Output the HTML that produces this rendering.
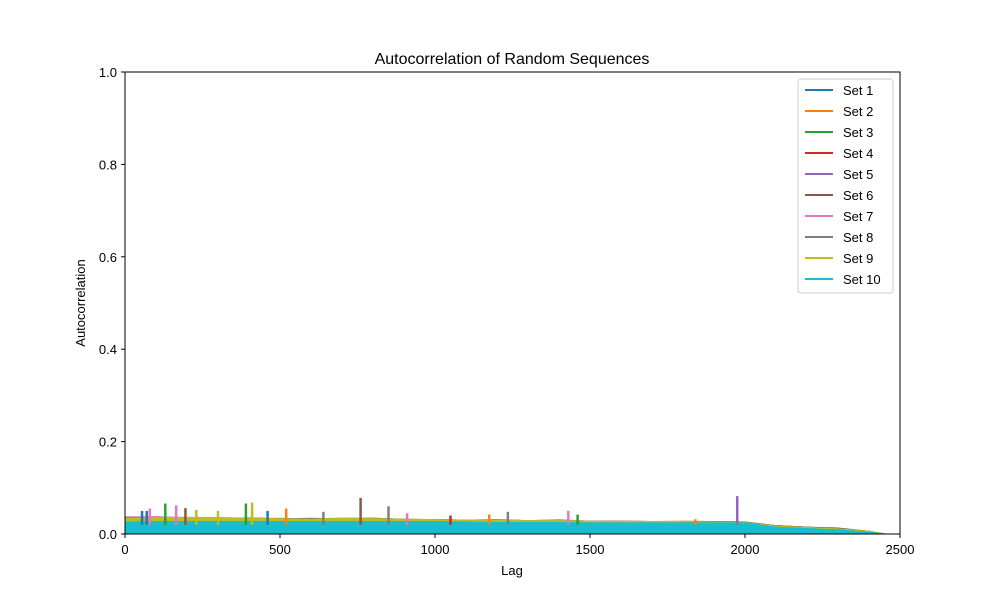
<!DOCTYPE html>
<html><head><meta charset="utf-8"><style>
html,body{margin:0;padding:0;background:#fff;}
svg{display:block;font-family:"Liberation Sans","DejaVu Sans",sans-serif;}
</style></head><body>
<svg id="chart" width="1000" height="600" viewBox="0 0 1000 600">
<rect width="1000" height="600" fill="#fff"/>
<text x="512" y="64" text-anchor="middle" font-size="16">Autocorrelation of Random Sequences</text>
<defs><clipPath id="pc"><rect x="125" y="72" width="775" height="462"/></clipPath></defs>
<g id="series" clip-path="url(#pc)"></g>
<rect x="125" y="72" width="775" height="462" fill="none" stroke="#000" stroke-width="1"/>
<g id="axes"></g>
<text x="512" y="575" text-anchor="middle" font-size="13">Lag</text>
<text transform="translate(85,303) rotate(-90)" text-anchor="middle" font-size="13">Autocorrelation</text>
<g id="legend"></g>
</svg>
<script>
const lags=[0,100,200,300,400,500,600,700,800,900,1000,1100,1200,1300,1400,1500,1600,1700,1800,1900,2000,2100,2200,2300,2400,2450];
const seriesNames=["Set 1","Set 2","Set 3","Set 4","Set 5","Set 6","Set 7","Set 8","Set 9","Set 10"];
const colors=["#1f77b4","#ff7f0e","#2ca02c","#d62728","#9467bd","#8c564b","#e377c2","#7f7f7f","#bcbd22","#17becf"];
const s1=[.036,.034,.033,.032,.033,.032,.031,.031,.031,.031,.030,.030,.030,.029,.029,.028,.028,.027,.027,.027,.026,.018,.015,.011,.006,0];
const s2=[.035,.035,.034,.033,.033,.034,.032,.032,.032,.031,.031,.030,.031,.029,.029,.028,.028,.027,.028,.027,.026,.018,.015,.011,.006,0];
const s3=[.037,.036,.034,.035,.034,.033,.032,.032,.032,.031,.031,.030,.030,.029,.030,.028,.027,.027,.027,.027,.026,.018,.014,.011,.006,0];
const s4=[.034,.034,.033,.032,.032,.032,.031,.032,.031,.031,.030,.029,.029,.029,.028,.028,.027,.027,.026,.026,.025,.017,.014,.010,.005,0];
const s5=[.035,.036,.034,.033,.032,.032,.032,.032,.033,.031,.030,.029,.029,.028,.028,.028,.027,.027,.027,.026,.026,.017,.014,.011,.006,0];
const s6=[.036,.036,.036,.034,.035,.033,.033,.034,.034,.032,.031,.030,.030,.029,.028,.028,.027,.027,.027,.026,.025,.018,.015,.013,.006,0];
const s7=[.037,.038,.035,.033,.034,.032,.032,.033,.032,.032,.030,.030,.030,.029,.031,.028,.027,.027,.026,.026,.025,.018,.014,.011,.006,0];
const s8=[.036,.036,.034,.033,.035,.033,.034,.033,.034,.032,.031,.030,.031,.029,.029,.028,.027,.027,.026,.026,.025,.018,.015,.011,.006,0];
const s9=[.034,.036,.036,.036,.034,.033,.032,.034,.033,.032,.031,.030,.030,.029,.029,.028,.027,.027,.027,.026,.025,.017,.014,.011,.006,0];
const s10=[.026,.027,.027,.027,.027,.027,.027,.027,.027,.027,.027,.026,.025,.025,.025,.024,.024,.024,.024,.024,.024,.015,.012,.009,.004,0];
const allSeries=[s1,s2,s3,s4,s5,s6,s7,s8,s9,s10];
const spikeLags=[760,1975,2380,1430,130,390,410,55,70,165,195,230,460,520,850,1050,1175,1235,1460,1840,80,300,640,910];
const spikeVals=[0.078,0.082,0.02,0.05,0.066,0.066,0.068,0.05,0.05,0.062,0.056,0.052,0.05,0.055,0.06,0.04,0.042,0.048,0.042,0.032,0.055,0.05,0.048,0.045];
const spikeSeries=[5,4,5,6,2,2,8,0,0,6,5,8,0,1,7,3,1,7,2,1,6,8,7,6];
const xTicks=[0,500,1000,1500,2000,2500];
const yTicks=[0,0.2,0.4,0.6,0.8,1.0];
const NS="http://www.w3.org/2000/svg";
const X=v=>125+v/2500*775, Y=v=>534-v*462;
const g=document.getElementById('series');
allSeries.forEach((s,i)=>{
  let d=`M${X(lags[0])},${Y(0)}`;
  s.forEach((v,j)=>{d+=` L${X(lags[j])},${Y(v)}`;});
  d+=` L${X(lags[lags.length-1])},${Y(0)} Z`;
  const p=document.createElementNS(NS,'path');
  p.setAttribute('d',d);p.setAttribute('fill',colors[i]);p.setAttribute('stroke',colors[i]);p.setAttribute('stroke-width','1');
  
  
  g.appendChild(p);
});
spikeLags.forEach((l,k)=>{
  const ln=document.createElementNS(NS,'line');
  ln.setAttribute('x1',X(l));ln.setAttribute('x2',X(l));ln.setAttribute('y1',Y(0.02));ln.setAttribute('y2',Y(spikeVals[k]));
  ln.setAttribute('stroke',colors[spikeSeries[k]]);ln.setAttribute('stroke-width','2.5');
  
  
  g.appendChild(ln);
});
const ax=document.getElementById('axes');
xTicks.forEach(t=>{
  const l=document.createElementNS(NS,'line');
  l.setAttribute('x1',X(t));l.setAttribute('x2',X(t));l.setAttribute('y1',534);l.setAttribute('y2',538);l.setAttribute('stroke','#000');
  
  
  ax.appendChild(l);
  const tx=document.createElementNS(NS,'text');
  tx.setAttribute('x',X(t));tx.setAttribute('y',554);tx.setAttribute('text-anchor','middle');tx.setAttribute('font-size','13');
  tx.textContent=t;
  
  
  ax.appendChild(tx);
});
yTicks.forEach(t=>{
  const l=document.createElementNS(NS,'line');
  l.setAttribute('x1',121);l.setAttribute('x2',125);l.setAttribute('y1',Y(t));l.setAttribute('y2',Y(t));l.setAttribute('stroke','#000');
  
  
  ax.appendChild(l);
  const tx=document.createElementNS(NS,'text');
  tx.setAttribute('x',117);tx.setAttribute('y',Y(t)+5);tx.setAttribute('text-anchor','end');tx.setAttribute('font-size','13');
  tx.textContent=t.toFixed(1);
  
  
  ax.appendChild(tx);
});
const lg=document.getElementById('legend');
const box=document.createElementNS(NS,'rect');
box.setAttribute('x',798);box.setAttribute('y',79);box.setAttribute('width',95);box.setAttribute('height',214);box.setAttribute('rx',3);
box.setAttribute('fill','#fff');box.setAttribute('fill-opacity','0.8');box.setAttribute('stroke','#ccc');


lg.appendChild(box);
seriesNames.forEach((n,i)=>{
  const y=90+i*21;
  const l=document.createElementNS(NS,'line');
  l.setAttribute('x1',805);l.setAttribute('x2',833);l.setAttribute('y1',y);l.setAttribute('y2',y);l.setAttribute('stroke',colors[i]);l.setAttribute('stroke-width','2');
  
  
  lg.appendChild(l);
  const tx=document.createElementNS(NS,'text');
  tx.setAttribute('x',843);tx.setAttribute('y',y+5);tx.setAttribute('font-size','13');
  tx.textContent=n;
  
  
  lg.appendChild(tx);
});
</script>
</body></html>
